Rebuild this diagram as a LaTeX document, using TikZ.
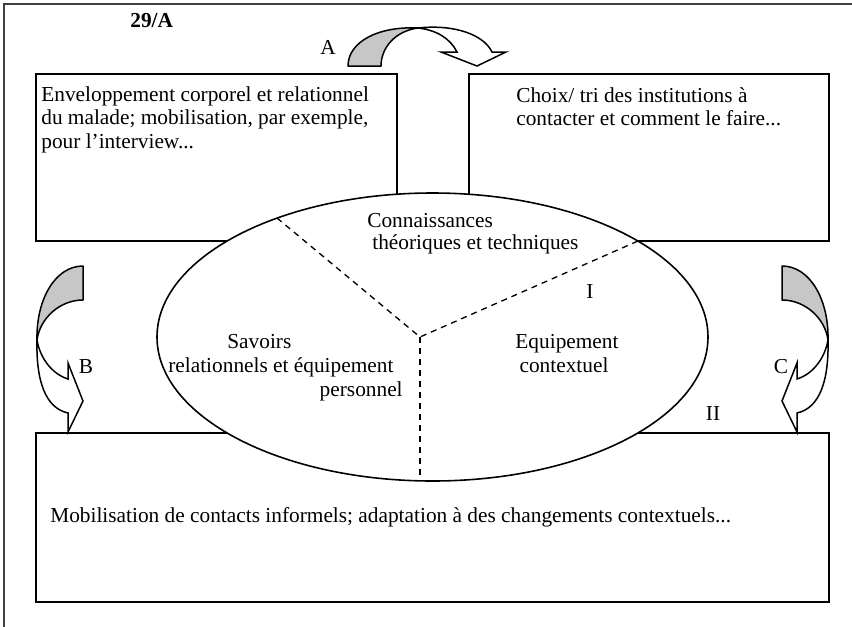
\documentclass[tikz,border=0pt]{standalone}
\usepackage{fontspec}
\setmainfont{Liberation Serif}
\begin{document}
\begin{tikzpicture}[x=0.6pt,y=-0.6pt,
  frame/.style={draw=black!75,line width=1.1pt},
  box/.style={draw=black,line width=0.95pt},
  divider/.style={draw=black,line width=0.8pt,dash pattern=on 3.6pt off 3pt},
  txt/.style={inner sep=0pt,anchor=base west,font=\fontsize{12.8}{14.5}\selectfont},
  tailface/.style={fill=black!22,draw=black,line width=0.9pt,line join=round},
  headface/.style={fill=white,draw=black,line width=0.9pt,line join=miter}]
\useasboundingbox (0,0) rectangle (852,627);
\fill[white] (0,0) rectangle (852,627);

% page frame (open to the right and below)
\draw[frame] (4,627) -- (4,4) -- (852,4);
\node[txt,font=\fontsize{12.8}{14.5}\selectfont\bfseries] (code) at (130,27) {29/A};

% the three boxes
\draw[box] (36,74) rectangle (397,241);
\draw[box] (469,74) rectangle (829,241);
\draw[box] (36,433) rectangle (829,602);

% central ellipse, drawn over the boxes
\draw[box,fill=white] (432.5,337) ellipse [x radius=275.5, y radius=144];
\coordinate (hub) at (420,337);
\coordinate (rimNW) at (277,218);
\coordinate (rimNE) at (638,241);
\coordinate (rimS) at (420,480.8);
\draw[divider] (rimNW) -- (hub) -- (rimNE);
\draw[divider] (hub) -- (rimS);

% box texts
\node[txt] (tl1) at (41,101) {Enveloppement corporel et relationnel};
\node[txt] (tl2) at (41,124.5) {du malade; mobilisation, par exemple,};
\node[txt] (tl3) at (41,148) {pour l’interview...};
\node[txt] (tr1) at (516,102) {Choix/ tri des institutions à};
\node[txt] (tr2) at (516,125.5) {contacter et comment le faire...};
\node[txt] (bt1) at (50,522) {Mobilisation de contacts informels; adaptation à des changements contextuels...};

% ellipse sectors
\node[txt] (k1) at (367,227) {Connaissances};
\node[txt] (k2) at (372,249) {théoriques et techniques};
\node[txt] (s1) at (227,348) {Savoirs};
\node[txt] (s2) at (168,372) {relationnels et équipement};
\node[txt,anchor=base east] (s3) at (403,396) {personnel};
\node[txt,anchor=base] (e1) at (567,348) {Equipement};
\node[txt,anchor=base] (e2) at (564,372) {contextuel};
\node[txt,anchor=base] (nI) at (590,298) {I};
\node[txt,anchor=base] (nII) at (713,420) {II};

% curved arrow A (over the top, pointing down)
\draw[tailface] (348,66) -- (381,66) .. controls (381,48) and (395,31) .. (418,28)
  .. controls (378,26) and (348,42) .. (348,66) -- cycle;
\draw[headface] (418,28) .. controls (455,24) and (484,35) .. (492,52) -- (506,52)
  -- (477,66) -- (441,52) -- (457,52) .. controls (450,38) and (436,30) .. (418,28) -- cycle;
\node[txt,anchor=base] (lA) at (328,54) {A};

% curved arrow B (left side)
\draw[tailface] (83,266) -- (83,300) .. controls (60,300) and (40,318) .. (37,340)
  .. controls (36,300) and (55,266) .. (83,266) -- cycle;
\draw[headface] (37,340) .. controls (40,358) and (52,374) .. (68,379) -- (68,363)
  -- (83,401) -- (68,432) -- (68,413) .. controls (45,408) and (36,380) .. (37,340) -- cycle;
\node[txt,anchor=base] (lB) at (86,373) {B};

% curved arrow C (right side)
\draw[tailface] (782,266) -- (782,300) .. controls (805,300) and (825,318) .. (828,340)
  .. controls (829,300) and (810,266) .. (782,266) -- cycle;
\draw[headface] (828,340) .. controls (825,358) and (813,374) .. (797,379) -- (797,363)
  -- (782,401) -- (797,432) -- (797,413) .. controls (820,408) and (829,380) .. (828,340) -- cycle;
\node[txt,anchor=base] (lC) at (781,373) {C};
\end{tikzpicture}
\end{document}
